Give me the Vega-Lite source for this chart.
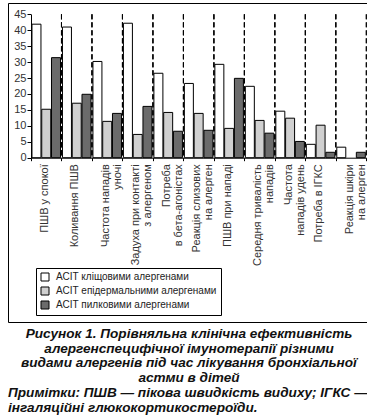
{
  "$schema": "https://vega.github.io/schema/vega-lite/v6.json",
  "padding": {"left": 1, "top": 2, "right": 0, "bottom": 0},
  "background": "#ffffff",
  "title": {
    "text": ["Примітки: ПШВ — пікова швидкість видиху; ІГКС —", "інгаляційні глюкокортикостероїди."],
    "orient": "bottom", "anchor": "start", "frame": "group", "offset": 1,
    "font": "Liberation Sans", "fontSize": 13.6, "fontStyle": "italic", "fontWeight": "bold",
    "color": "#111111", "lineHeight": 14.7
  },
  "vconcat": [
    {
      "width": 362,
      "height": 319,
      "title": {
        "text": ["Рисунок 1. Порівняльна клінічна ефективність", "алергенспецифічної імунотерапії різними", "видами алергенів під час лікування бронхіальної", "астми в дітей"],
        "orient": "bottom", "anchor": "middle", "frame": "group", "offset": 5,
        "font": "Liberation Sans", "fontSize": 13.6, "fontStyle": "italic", "fontWeight": "bold",
        "color": "#111111", "lineHeight": 14.7
      },
      "data": {
        "values": [
          {"cat": "ПШВ у спокої", "series": "АСІТ кліщовими алергенами", "value": 41.9},
          {"cat": "ПШВ у спокої", "series": "АСІТ епідермальними алергенами", "value": 15.2},
          {"cat": "ПШВ у спокої", "series": "АСІТ пилковими алергенами", "value": 31.4},
          {"cat": "Коливання ПШВ", "series": "АСІТ кліщовими алергенами", "value": 41.0},
          {"cat": "Коливання ПШВ", "series": "АСІТ епідермальними алергенами", "value": 17.1},
          {"cat": "Коливання ПШВ", "series": "АСІТ пилковими алергенами", "value": 19.9},
          {"cat": "Частота нападів\nуночі", "series": "АСІТ кліщовими алергенами", "value": 30.2},
          {"cat": "Частота нападів\nуночі", "series": "АСІТ епідермальними алергенами", "value": 11.4},
          {"cat": "Частота нападів\nуночі", "series": "АСІТ пилковими алергенами", "value": 13.9},
          {"cat": "Задуха при контакті\nз алергеном", "series": "АСІТ кліщовими алергенами", "value": 42.2},
          {"cat": "Задуха при контакті\nз алергеном", "series": "АСІТ епідермальними алергенами", "value": 7.3},
          {"cat": "Задуха при контакті\nз алергеном", "series": "АСІТ пилковими алергенами", "value": 16.1},
          {"cat": "Потреба\nв бета-агоністах", "series": "АСІТ кліщовими алергенами", "value": 26.5},
          {"cat": "Потреба\nв бета-агоністах", "series": "АСІТ епідермальними алергенами", "value": 14.2},
          {"cat": "Потреба\nв бета-агоністах", "series": "АСІТ пилковими алергенами", "value": 8.3},
          {"cat": "Реакція слизових\nна алерген", "series": "АСІТ кліщовими алергенами", "value": 23.3},
          {"cat": "Реакція слизових\nна алерген", "series": "АСІТ епідермальними алергенами", "value": 13.9},
          {"cat": "Реакція слизових\nна алерген", "series": "АСІТ пилковими алергенами", "value": 8.6},
          {"cat": "ПШВ при нападі", "series": "АСІТ кліщовими алергенами", "value": 29.3},
          {"cat": "ПШВ при нападі", "series": "АСІТ епідермальними алергенами", "value": 9.2},
          {"cat": "ПШВ при нападі", "series": "АСІТ пилковими алергенами", "value": 24.9},
          {"cat": "Середня тривалість\nнападів", "series": "АСІТ кліщовими алергенами", "value": 22.4},
          {"cat": "Середня тривалість\nнападів", "series": "АСІТ епідермальними алергенами", "value": 11.7},
          {"cat": "Середня тривалість\nнападів", "series": "АСІТ пилковими алергенами", "value": 7.7},
          {"cat": "Частота\nнападів удень", "series": "АСІТ кліщовими алергенами", "value": 14.6},
          {"cat": "Частота\nнападів удень", "series": "АСІТ епідермальними алергенами", "value": 12.4},
          {"cat": "Частота\nнападів удень", "series": "АСІТ пилковими алергенами", "value": 5.1},
          {"cat": "Потреба в ІГКС", "series": "АСІТ кліщовими алергенами", "value": 4.2},
          {"cat": "Потреба в ІГКС", "series": "АСІТ епідермальними алергенами", "value": 10.2},
          {"cat": "Потреба в ІГКС", "series": "АСІТ пилковими алергенами", "value": 1.7},
          {"cat": "Реакція шкіри\nна алерген", "series": "АСІТ кліщовими алергенами", "value": 3.3},
          {"cat": "Реакція шкіри\nна алерген", "series": "АСІТ пилковими алергенами", "value": 1.7}
        ]
      },
      "layer": [
        {
          "mark": {"type": "bar", "stroke": "#000000", "strokeWidth": 1},
          "encoding": {
            "x": {
              "field": "cat", "type": "nominal", "sort": null,
              "scale": {"range": [23, 358.3], "paddingInner": 0, "paddingOuter": 0},
              "axis": {
                "title": null, "labelAngle": -90, "labelExpr": "split(datum.label, '\\n')",
                "labelFont": "Liberation Sans", "labelFontSize": 11, "labelLineHeight": 12,
                "labelColor": "#333333", "labelPadding": 3, "labelOverlap": false, "labelLimit": 300,
                "labelOffset": -2,
                "tickBand": "extent", "tickSize": 3, "tickColor": "#000000",
                "domainColor": "#000000", "offset": -164.3, "grid": false, "minExtent": 0
              }
            },
            "xOffset": {
              "field": "series", "type": "nominal", "sort": null,
              "scale": {"paddingInner": 0.08, "paddingOuter": 0.1}
            },
            "y": {
              "field": "value", "type": "quantitative",
              "scale": {"domain": [0, 45], "range": [154.7, 11.3], "nice": false},
              "axis": {
                "title": null, "values": [0, 5, 10, 15, 20, 25, 30, 35, 40, 45],
                "labelFont": "Liberation Sans", "labelFontSize": 11, "labelColor": "#333333",
                "labelOverlap": false, "labelPadding": 1, "tickSize": 4, "tickColor": "#000000",
                "domainColor": "#000000", "offset": -23, "grid": false, "minExtent": 0
              }
            },
            "fill": {
              "field": "series", "type": "nominal", "sort": null,
              "scale": {
                "domain": ["АСІТ кліщовими алергенами", "АСІТ епідермальними алергенами", "АСІТ пилковими алергенами"],
                "range": ["#ffffff", "#d0d0d0", "#6b6b6b"]
              },
              "legend": {
                "orient": "none", "legendX": 28, "legendY": 265, "title": null,
                "strokeColor": "#000000", "fillColor": "#ffffff", "padding": 4, "rowPadding": 2,
                "symbolType": "square", "symbolSize": 64, "symbolStrokeColor": "#000000",
                "symbolStrokeWidth": 1, "labelFont": "Liberation Sans", "labelFontSize": 10,
                "labelColor": "#222222", "labelOffset": 6, "labelLimit": 300
              }
            }
          }
        },
        {
          "mark": {"type": "rule", "stroke": "#000000", "strokeWidth": 1, "strokeDash": [5, 3]},
          "encoding": {
            "x": {"field": "cat", "type": "nominal", "sort": null, "bandPosition": 1},
            "y": {
              "datum": 45, "type": "quantitative",
              "axis": {
                "title": null, "values": [0, 5, 10, 15, 20, 25, 30, 35, 40, 45],
                "labelFont": "Liberation Sans", "labelFontSize": 11, "labelColor": "#333333",
                "labelOverlap": false, "labelPadding": 1, "tickSize": 4, "tickColor": "#000000",
                "domainColor": "#000000", "offset": -23, "grid": false, "minExtent": 0
              }
            },
            "y2": {"datum": 0}
          }
        }
      ]
    }
  ],
  "config": {
    "view": {"stroke": "#000000", "strokeWidth": 1}
  }
}
